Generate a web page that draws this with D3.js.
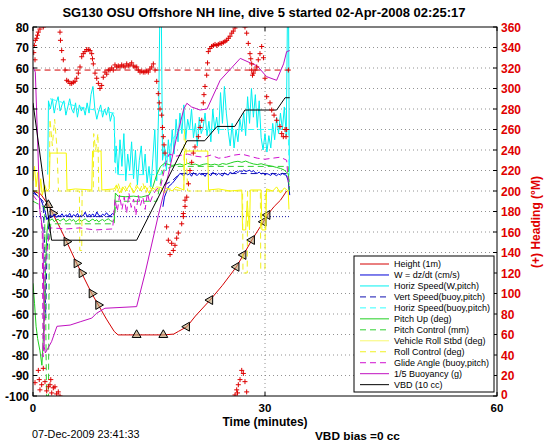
<!DOCTYPE html>
<html><head><meta charset="utf-8">
<script src="https://cdn.jsdelivr.net/npm/d3@7"></script>
<style>body{margin:0;background:#fff;} svg{display:block;font-family:"Liberation Sans",Arial,Helvetica,sans-serif;}</style>
</head><body><svg id="c" width="546" height="442"></svg>
<script>
// ---------------- DATA ----------------
const titleText = "SG130 OSU Offshore NH line, dive 5 started 02-Apr-2008 02:25:17";
const xTicks = [0, 30, 60];
const yTicks = [-100,-90,-80,-70,-60,-50,-40,-30,-20,-10,0,10,20,30,40,50,60,70,80];
const headingTicks = [0,20,40,60,80,100,120,140,160,180,200,220,240,260,280,300,320,340,360];
const legendLabels = ["Height (1m)","W = dz/dt (cm/s)","Horiz Speed(W,pitch)","Vert Speed(buoy,pitch)","Horiz Speed(buoy,pitch)","Pitch Up (deg)","Pitch Control (mm)","Vehicle Roll Stbd (deg)","Roll Control (deg)","Glide Angle (buoy,pitch)","1/5 Buoyancy (g)","VBD (10 cc)"];

const heightData = [[0,0],[1,-1.5],[1.98,-6.8],[2.55,-10.9],[3.5,-18],[4.35,-24.7],[5.65,-35.3],[6.3,-40.1],[7.6,-50],[8.45,-55.6],[9.5,-62.5],[10.5,-68.5],[11,-70.2],[13.4,-70.2],[16.85,-70.2],[18.2,-69.8],[18.8,-68.5],[19.9,-66.2],[21,-61],[22.9,-53.2],[24.5,-46],[26.3,-37],[27.2,-31.2],[28.3,-23.9],[29.8,-15],[30.3,-11.7],[31.2,-7.5],[32,-4.5],[32.8,0]];
const heightMarks = [[1.98,-6.8],[2.55,-10.9],[4.35,-24.7],[5.65,-35.3],[6.3,-40.1],[7.6,-50],[8.45,-55.6],[13.4,-70.2],[16.85,-70.2],[19.9,-66.2],[22.9,-53.2],[26.3,-37],[27.2,-31.2],[28.3,-23.9],[29.8,-15],[30.3,-11.7]];

const wData = [[0,-1],[0.5,-2],[1,-4],[1.5,-9],[1.8,-14],[2.0,-12.5],[2.25,-11.8],[2.5,-12.6],[2.75,-11.2],[3.0,-12.9],[3.25,-11.9],[3.5,-12.4],[3.75,-11.1],[4.0,-12.7],[4.25,-11.6],[4.5,-12.2],[4.75,-10.9],[5.0,-12.8],[5.25,-11.5],[5.5,-12.3],[5.75,-11.0],[6.0,-12.6],[6.25,-11.7],[6.5,-12.1],[6.75,-10.3],[7.0,-12.5],[7.25,-11.4],[7.5,-12.0],[7.75,-11.2],[8.0,-12.7],[8.25,-10.2],[8.5,-11.9],[8.75,-12.3],[9.0,-11.3],[9.25,-12.0],[9.5,-10.6],[9.75,-11.8],[10.0,-12.2],[10.25,-11.0],[10.5,-11.5],[10.6,null],[16.8,-7.7],[17,-3],[17.5,2],[18,3.7],[18.5,6],[19,8.6],[19.25,8.1],[19.5,7.4],[19.75,8.9],[20.0,7.8],[20.25,8.5],[20.5,7.2],[20.75,9.0],[21.0,8.0],[21.25,7.6],[21.5,8.7],[21.75,7.9],[22.0,8.3],[22.25,7.1],[22.5,8.8],[22.75,8.2],[23.0,7.5],[23.25,9.1],[23.5,8.4],[23.75,7.7],[24.0,8.6],[24.25,8.0],[24.5,7.3],[24.75,8.9],[25.0,8.1],[25.25,7.8],[25.5,9.2],[25.75,8.5],[26.0,8.8],[26.25,9.6],[26.5,9.0],[26.75,9.9],[27.0,9.3],[27.25,10.2],[27.5,9.5],[27.75,9.8],[28.0,10.1],[28.25,9.4],[28.5,9.9],[28.75,9.0],[29.0,8.6],[29.25,9.2],[29.5,8.3],[29.75,8.8],[30.0,7.9],[30.25,8.5],[30.5,8.1],[30.75,7.6],[31.0,8.7],[31.25,8.0],[31.5,7.5],[31.75,8.3],[32.0,7.8],[32.25,8.6],[32.5,8.0],[32.75,7.7],[33.0,5],[33.2,-2]];

const horizSpeedData = [[1.9,8],[2.0,44],[2.25,40],[2.5,45],[2.75,38],[3.0,43],[3.25,46],[3.5,39],[3.75,42],[4.0,44],[4.25,37],[4.5,41],[4.75,45],[5.0,40],[5.25,38],[5.5,43],[5.75,36],[6.0,42],[6.25,39],[6.5,41],[6.75,37],[7.0,43],[7.25,38],[7.5,47],[7.75,51],[8.0,40],[8.25,35],[8.5,39],[8.75,42],[9.0,36],[9.25,40],[9.5,37],[9.75,41],[10.0,34],[10.25,38],[10.5,36],[10.6,14],[10.75,22],[11,8],[11.25,25],[11.5,12],[11.75,28],[12,5],[12.25,18],[12.5,10],[12.75,24],[13,6],[13.25,20],[13.5,3],[13.75,15],[14,22],[14.25,8],[14.5,18],[14.75,4],[15,12],[15.25,2],[15.5,16],[15.75,30],[16,5],[16.25,40],[16.4,85],[16.6,85],[16.75,15],[17,22],[17.25,10],[17.5,25],[17.75,14],[18,30],[18.25,18],[18.5,35],[18.75,24],[19,38],[19.25,28],[19.5,42],[19.75,25],[20,35],[20.25,30],[20.5,40],[20.75,26],[21,33],[21.25,22],[21.5,36],[21.75,28],[22,31],[22.25,38],[22.5,27],[22.75,34],[23,24],[23.25,40],[23.5,30],[23.75,36],[24,28],[24.25,48],[24.5,33],[24.75,51],[25,38],[25.25,29],[25.5,22],[25.75,33],[26,21],[26.25,30],[26.5,24],[26.75,35],[27,29],[27.25,38],[27.5,27],[27.75,46],[28,33],[28.25,50],[28.5,36],[28.75,47],[29,31],[29.25,44],[29.5,26],[29.75,20],[30,28],[30.25,19],[30.5,27],[30.75,21],[31,33],[31.25,25],[31.5,36],[31.75,28],[32,38],[32.25,30],[32.5,41],[32.75,27],[32.9,85],[33.05,85],[33.15,10]];

const vertSpeedBuoyData = [[0,0],[1.3,-5],[1.5,-25],[1.65,-62],[1.8,-30],[2.1,-12.5],[10.5,-12.5],[10.6,null],[17,3],[18,5],[19,8.5],[33,8.5],[33.15,0]];
const horizSpeedBuoyData = [[2.2,45],[4,43],[6,41],[8,39.5],[10.5,38],[10.7,8],[16.5,8],[18,25],[19,30],[33,30],[33.15,5]];

const pitchData = [[0,-45],[0.2,-55],[0.4,-66],[0.6,-72],[0.9,-78],[1.15,-85],[1.35,-70],[1.6,-40],[1.8,-20],[2.0,-14],[2.25,-14.2],[2.5,-13.6],[2.75,-15.0],[3.0,-14.1],[3.25,-13.8],[3.5,-14.7],[3.75,-14.0],[4.0,-13.5],[4.25,-14.9],[4.5,-14.3],[4.75,-13.7],[5.0,-14.6],[5.25,-13.9],[5.5,-15.2],[5.75,-14.4],[6.0,-13.8],[6.25,-14.8],[6.5,-14.1],[6.75,-13.6],[7.0,-14.5],[7.25,-15.0],[7.5,-14.2],[7.75,-13.7],[8.0,-14.6],[8.25,-14.0],[8.5,-15.1],[8.75,-14.3],[9.0,-13.9],[9.25,-14.7],[9.5,-14.0],[9.75,-13.6],[10.0,-14.4],[10.25,-14.9],[10.5,-14],[10.65,-1],[11,-2.5],[12,-2.8],[13,-2.5],[14,-3],[15,-2],[15.5,2],[16,8],[16.5,12],[17,13.5],[18,12.5],[18.5,12.8],[19,13.2],[19.5,12.5],[20,13.5],[20.5,12.9],[21,13.1],[21.5,12.4],[22,13.0],[22.5,13.3],[23,12.7],[23.5,13.1],[24,12.6],[24.5,13.4],[25,13.0],[25.5,13.6],[26,14.2],[26.5,14.5],[27,14.0],[27.5,14.6],[28,13.8],[28.5,13.2],[29,12.9],[29.5,13.3],[30,12.7],[30.5,12.4],[31,12.0],[31.5,11.5],[32,11.0],[32.5,10.2],[32.8,9],[33.0,8.6],[33.1,3]];
const pitchControlData = [[0,-5],[1.5,-8],[1.75,-100],[2.0,-100],[2.1,-25],[2.3,-16],[10.5,-16],[10.7,-5],[16,-5],[16.8,10],[18,12],[33,12],[33.15,0]];

const rollData = [[0,5],[0.2,12],[0.4,2],[0.6,9],[0.8,-3],[1.0,6],[1.2,-2],[1.5,3],[1.8,0],[2.1,1],[2.2,18.5],[4.3,18.5],[4.4,0.5],[5.5,1],[7.6,0.5],[7.7,19.5],[8.8,19.5],[8.9,0.5],[10.5,1],[10.8,3],[11.2,-1],[11.6,2],[12,0],[12.5,3],[13,-1],[13.5,2],[14,0],[14.5,2.5],[15,-1],[15.5,1.5],[16,0],[16.5,2],[17,-1],[17.5,1],[18,0],[18.5,2],[19.5,0.5],[19.6,19.5],[22.6,19.5],[22.7,0.5],[24,1],[25.5,0],[27,0.5],[27.1,-19],[27.5,-19],[27.7,-5],[28,-19],[28.1,0.5],[29.5,0.5],[29.6,-19],[30.1,-19],[30.2,1],[31,0],[31.5,2],[32,-1],[32.5,1.5],[33,0],[33.1,-9]];
const rollControlData = [[0,0],[2.1,0],[2.2,35],[2.5,22],[2.8,35],[3.1,21],[3.3,0],[6.0,0],[6.05,-29],[6.3,-29],[6.35,0],[7.8,0],[7.85,28],[8.1,20],[8.4,28],[8.5,0],[10.6,0],[11,4],[11.4,-1],[11.8,3],[12.2,0],[12.6,4],[13,-1],[13.4,3],[13.8,0],[14.2,4],[14.6,-1],[15,3],[15.4,0],[16,2],[19.5,0],[19.55,30],[19.8,20],[20.0,0],[27.1,0],[27.15,-40],[27.7,-40],[27.75,0],[29.4,0],[29.45,-38],[30.0,-38],[30.05,0],[33.1,0]];

const glideData = [[0,-2],[0.8,-6],[1.2,-20],[1.3,-81],[1.45,-70],[1.6,-35],[2.2,-18],[4.4,-18.5],[6,-18],[8,-19],[10.3,-18.5],[10.6,-4],[10.9,-10],[11.2,-2],[11.5,-9],[11.8,-3],[12.1,-11],[12.4,-1],[12.7,-8],[13,-4],[13.3,-12],[13.6,-2],[13.9,-7],[14.2,-3],[14.5,-9],[14.8,-1],[15.1,-6],[15.5,-2],[16,1],[16.5,2],[17.2,14],[17.6,18],[18.5,17],[20,18],[21,17],[22,16.5],[23,17.5],[24,16],[25,16.5],[26,17.5],[27,18],[28,17],[29,16],[30,15.5],[31,16],[32,16.5],[32.8,15],[33.0,5],[33.1,2]];
const buoyancyData = [[0,60.5],[0.3,58],[0.9,-10],[1.3,-20],[1.45,-76],[1.6,-79],[2.4,-73.5],[3.1,-66],[4.8,-65.4],[6.1,-63.8],[7.6,-62],[8.2,-59.7],[9.3,-57.2],[13.4,-56.4],[14.5,-40],[16.2,-12],[17.5,8],[18.5,25],[19.5,40],[19.9,42.8],[20.5,41],[21.6,39.5],[22.5,40],[24.2,54],[26.8,64.7],[27.8,63],[29.0,61],[30.2,55.8],[31.5,54],[32.4,62],[32.8,68],[33.2,68.5]];
const vbdData = [[0,43],[2.4,-24],[13.4,-24],[19.9,24.5],[22.2,24.5],[23.8,31.5],[26.1,31.5],[27.4,39.5],[31.5,39.5],[32.6,45.5],[33.2,45.5]];

const headingData = [[0.1,335],[0.17,342],[0.26,328],[0.3,347],[0.48,349],[0.58,352],[0.69,355],[0.9,358],[1.33,360],
[0.26,13],[0.69,25],[0.81,16],[0.9,6],[1.12,11],[1.33,27],[1.55,14],[1.77,5],[1.98,9],[2.2,11],[2.3,16],[2.42,3],[2.63,8],[2.84,9],[3.06,2],[3.27,4],[3.49,0],
[3.49,355],[3.55,347],[3.71,337],[3.92,328],[4.14,318],[4.36,308],[4.56,307],[4.78,305],[5.0,305],[5.21,306],[5.43,307],[5.65,310],[5.86,315],[6.08,321],[6.3,331],[6.5,334],[6.72,336],[6.94,338],[7.15,338],[7.37,337],[7.59,334],[7.69,329],[7.8,324],[8.02,315],[8.24,310],[8.45,305],[8.66,300],[8.88,303],[9.09,311],[9.31,316],[9.53,314],[9.74,318],[9.96,318],[10.18,320],[10.38,318],[10.6,323],[10.82,321],[11.03,322],[11.25,321],[11.47,323],[11.68,322],[11.9,321],[12.12,324],[12.32,322],[12.54,323],[12.76,325],[12.97,322],[13.19,321],[13.41,321],[13.62,318],[13.84,316],[14.06,317],[14.26,316],[14.48,316],[14.7,317],[14.91,316],[15.13,319],[15.35,321],[15.56,324],[15.78,318],[16.0,307],[16.2,295],[16.33,286],[16.42,280],[16.64,274],[16.75,262],[16.85,253],[16.94,245],[17.07,237],
[17.28,165],[17.5,152],[17.72,138],[17.93,149],[18.14,142],[18.36,147],[18.58,154],[18.79,159],[19.23,168],[19.44,178],[19.66,191],
[19.44,175],[19.66,185],[19.88,194],[20.1,207],[20.3,220],[20.52,228],[20.73,237],[20.95,243],[21.38,253],[21.6,262],[21.82,269],[22.02,286],[22.11,294],[22.24,302],[22.46,313],[22.57,325],[22.67,336],[22.89,339],[23.1,341],[23.32,342],[23.54,343],[23.76,342],[23.96,343],[24.18,344],[24.4,344],[24.61,345],[24.83,346],[25.05,347],[25.26,349],[25.48,351],[25.7,354],[25.9,356],[26.12,359],
[26.12,1],[26.34,6],[26.45,3],[26.55,11],[26.77,16],[26.99,25],[27.2,22],[27.41,14],[27.63,4],
[27.41,360],[27.63,354],[27.84,344],[28.06,334],[28.16,329],[28.28,324],[28.28,318],[28.38,313],[28.49,315],[28.71,318],[28.93,321],[29.13,328],[29.35,334],[29.57,341],[29.8,330],[30.0,310],
[30.22,292],[30.65,286],[30.87,279],[31.17,274],[31.51,269],[31.94,263],[32.16,256],[32.37,253],[32.59,260],[32.72,253],[32.8,260],[33.02,318]];
const targetHeading = [[0.2,318],[33.2,318]];
const targetW = [[0,-12.5],[33.2,-12.5]];

// ---------------- CHART ----------------
const svg = d3.select("#c");
const L = 33, R = 497, T = 27, B = 396;
const x = d3.scaleLinear().domain([0,60]).range([L,R]);
const y = d3.scaleLinear().domain([-100,80]).range([B,T]);
const yH = d3.scaleLinear().domain([0,360]).range([B,T]);

svg.append("defs").append("clipPath").attr("id","clip")
  .append("rect").attr("x",L).attr("y",T).attr("width",R-L).attr("height",B-T);

// grid
const grid = svg.append("g");
grid.selectAll("line.h").data(yTicks.filter(d=>d>-100 && d<80)).enter().append("line")
  .attr("x1",L).attr("x2",R).attr("y1",d=>y(d)).attr("y2",d=>y(d))
  .attr("stroke","#777").attr("stroke-width",0.8).attr("stroke-dasharray","1,3");
grid.selectAll("line.v").data(xTicks.filter(d=>d>0 && d<60)).enter().append("line")
  .attr("x1",d=>x(d)).attr("x2",d=>x(d)).attr("y1",T).attr("y2",B)
  .attr("stroke","#777").attr("stroke-width",0.8).attr("stroke-dasharray","1,3");

const plot = svg.append("g").attr("clip-path","url(#clip)");
const line = d3.line().defined(d=>d[1]!==null).x(d=>x(d[0])).y(d=>y(d[1]));
const lineH = d3.line().x(d=>x(d[0])).y(d=>yH(d[1]));

const series = [
  {data: heightData, color:"#d40000", dash:null},
  {data: wData, color:"#0000d8", dash:null},
  {data: horizSpeedData, color:"#00f0f0", dash:null},
  {data: vertSpeedBuoyData, color:"#1010b0", dash:"6,4"},
  {data: horizSpeedBuoyData, color:"#30ffff", dash:"6,4"},
  {data: pitchData, color:"#20d020", dash:null},
  {data: pitchControlData, color:"#30d030", dash:"6,4"},
  {data: rollData, color:"#f8f800", dash:null},
  {data: rollControlData, color:"#f0f020", dash:"6,4"},
  {data: glideData, color:"#d010d0", dash:"6,4"},
  {data: buoyancyData, color:"#c010c0", dash:null},
  {data: vbdData, color:"#000000", dash:null}
];
const legendStyle = [
  {color:"#d40000"},{color:"#0000d8"},{color:"#00f0f0"},{color:"#1010b0",dash:"6,4"},{color:"#30ffff",dash:"6,4"},
  {color:"#20d020"},{color:"#30d030",dash:"6,4"},{color:"#f8f870"},{color:"#f0f020",dash:"6,4"},{color:"#d010d0",dash:"6,4"},{color:"#c010c0"},{color:"#000"}
];

// reference lines
plot.append("path").attr("d",lineH(targetHeading)).attr("fill","none").attr("stroke","#d40000").attr("stroke-width",1).attr("stroke-dasharray","6,4");
plot.append("path").attr("d",line(targetW)).attr("fill","none").attr("stroke","#1010a0").attr("stroke-width",1).attr("stroke-dasharray","1,2");

// height first
plot.append("path").attr("d",line(heightData)).attr("fill","none").attr("stroke","#d40000").attr("stroke-width",1);
const tri = d3.symbol().type(d3.symbolTriangle).size(34);
plot.selectAll("path.mk").data(heightMarks).enter().append("path")
  .attr("d",tri)
  .attr("transform",(d,i)=>{
    let rot = 0;
    if (d[0] < 11 && i>0) rot = 90; else if (d[0] > 19.5) rot = -90;
    return `translate(${x(d[0])},${y(d[1])}) rotate(${rot})`;
  })
  .attr("fill","#b8a070").attr("fill-opacity",0.6).attr("stroke","#000").attr("stroke-width",1);

series.slice(1).forEach(s=>{
  plot.append("path").attr("d",line(s.data)).attr("fill","none").attr("stroke",s.color)
    .attr("stroke-width",1).attr("stroke-dasharray",s.dash);
});

// heading markers
plot.selectAll("path.hd").data(headingData).enter().append("path")
  .attr("d","M-2.5,0H2.5M0,-2.5V2.5")
  .attr("transform",d=>`translate(${x(d[0])},${yH(d[1])})`)
  .attr("stroke","#dd0000").attr("stroke-width",1).attr("fill","none");

// frame
svg.append("rect").attr("x",L).attr("y",T).attr("width",R-L).attr("height",B-T)
  .attr("fill","none").attr("stroke","#000").attr("stroke-width",1);

// left axis ticks & labels
const ax = svg.append("g").attr("font-weight","bold").attr("font-size",12);
yTicks.forEach(v=>{
  ax.append("line").attr("x1",L).attr("x2",L+4).attr("y1",y(v)).attr("y2",y(v)).attr("stroke","#000");
  ax.append("text").attr("x",L-4).attr("y",y(v)+4.5).attr("text-anchor","end").text(v);
});
xTicks.forEach(v=>{
  ax.append("line").attr("x1",x(v)).attr("x2",x(v)).attr("y1",B).attr("y2",B-4).attr("stroke","#000");
  ax.append("line").attr("x1",x(v)).attr("x2",x(v)).attr("y1",T).attr("y2",T+4).attr("stroke","#000");
  ax.append("text").attr("x",x(v)).attr("y",B+16).attr("text-anchor","middle").attr("font-size",11.5).text(v);
});
// right axis
const axR = svg.append("g").attr("font-weight","bold").attr("font-size",12).attr("fill","#e00000");
headingTicks.forEach(v=>{
  axR.append("line").attr("x1",R).attr("x2",R-4).attr("y1",yH(v)).attr("y2",yH(v)).attr("stroke","#000");
  axR.append("text").attr("x",R+4).attr("y",yH(v)+(v===0?3:4.5)).attr("text-anchor","start").text(v);
});
axR.append("text").attr("transform",`translate(540,222) rotate(-90)`).attr("text-anchor","middle").text("(+) Heading (°M)");

// titles
svg.append("text").attr("x",264).attr("y",17).attr("text-anchor","middle").attr("font-weight","bold").attr("font-size",13).text(titleText);
svg.append("text").attr("x",265).attr("y",426).attr("text-anchor","middle").attr("font-weight","bold").attr("font-size",12).text("Time (minutes)");
svg.append("text").attr("x",32).attr("y",438).attr("font-size",10.8).text("07-Dec-2009 23:41:33");
svg.append("text").attr("x",315).attr("y",439.5).attr("font-weight","bold").attr("font-size",11.8).text("VBD bias =0 cc");

// legend
const lg = svg.append("g");
lg.append("rect").attr("x",354).attr("y",256).attr("width",140).attr("height",136).attr("fill","#fff").attr("stroke","#000").attr("stroke-width",1);
legendLabels.forEach((lab,i)=>{
  const yy = 264 + i*10.97;
  lg.append("line").attr("x1",360).attr("x2",389).attr("y1",yy).attr("y2",yy)
    .attr("stroke",legendStyle[i].color).attr("stroke-width",1).attr("stroke-dasharray",legendStyle[i].dash||null);
  lg.append("text").attr("x",394).attr("y",yy+3.2).attr("font-size",9).text(lab);
});
</script></body></html>
